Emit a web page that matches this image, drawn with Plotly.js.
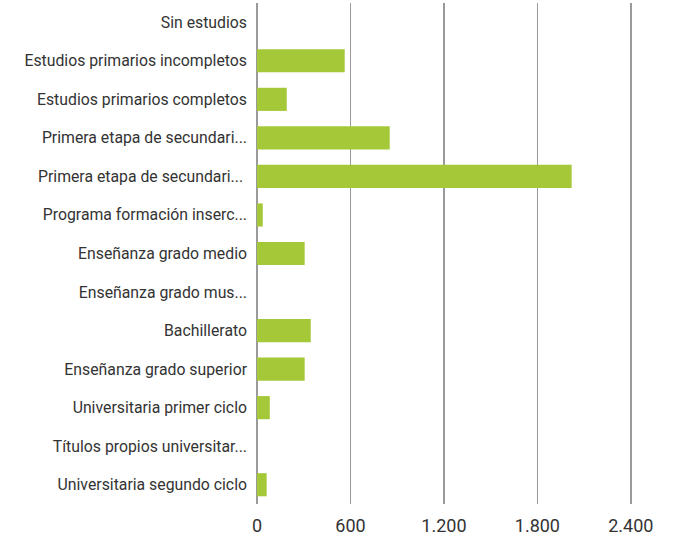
<!DOCTYPE html>
<html>
<head>
<meta charset="utf-8">
<script src="https://cdn.plot.ly/plotly-3.0.1.min.js"></script>
<style>html,body{margin:0;padding:0;background:#fff;}#chart{width:675px;height:539px;}</style>
</head>
<body>
<div id="chart"></div>
<script>
const categories = [
  "Sin estudios",
  "Estudios primarios incompletos",
  "Estudios primarios completos",
  "Primera etapa de secundari...",
  "Primera etapa de secundari... ",
  "Programa formación inserc...",
  "Enseñanza grado medio",
  "Enseñanza grado mus...",
  "Bachillerato",
  "Enseñanza grado superior",
  "Universitaria primer ciclo",
  "Títulos propios universitar...",
  "Universitaria segundo ciclo"
];
const values = [0, 563, 191, 852, 2020, 37, 306, 0, 345, 306, 82, 0, 62];
const xTickVals = [0, 600, 1200, 1800, 2400];
const xTickText = ["0", "600", "1.200", "1.800", "2.400"];

const trace = {
  type: "bar",
  orientation: "h",
  y: categories,
  x: values,
  marker: {color: "#a5c839"},
  hoverinfo: "x+y"
};

const layout = {
  width: 675,
  height: 539,
  margin: {l: 257, r: 13, t: 3, b: 35},
  paper_bgcolor: "#ffffff",
  plot_bgcolor: "#ffffff",
  bargap: 0.4,
  showlegend: false,
  font: {family: "Roboto, 'Open Sans', sans-serif", color: "#333333"},
  xaxis: {
    range: [0, 2600],
    tickvals: xTickVals,
    ticktext: xTickText,
    showgrid: true,
    gridcolor: "#9a9a9a",
    gridwidth: 1.5,
    zeroline: true,
    zerolinecolor: "#9a9a9a",
    zerolinewidth: 1.5,
    showline: false,
    ticks: "",
    ticklabelstandoff: 9,
    tickfont: {size: 18, color: "#333333"},
    fixedrange: true
  },
  yaxis: {
    type: "category",
    categoryorder: "array",
    categoryarray: categories,
    autorange: "reversed",
    showgrid: false,
    zeroline: false,
    showline: false,
    ticks: "",
    ticklabelstandoff: 9,
    tickfont: {size: 15.8, color: "#333333"},
    fixedrange: true
  }
};

Plotly.newPlot("chart", [trace], layout, {displayModeBar: false, staticPlot: true});
</script>
</body>
</html>
